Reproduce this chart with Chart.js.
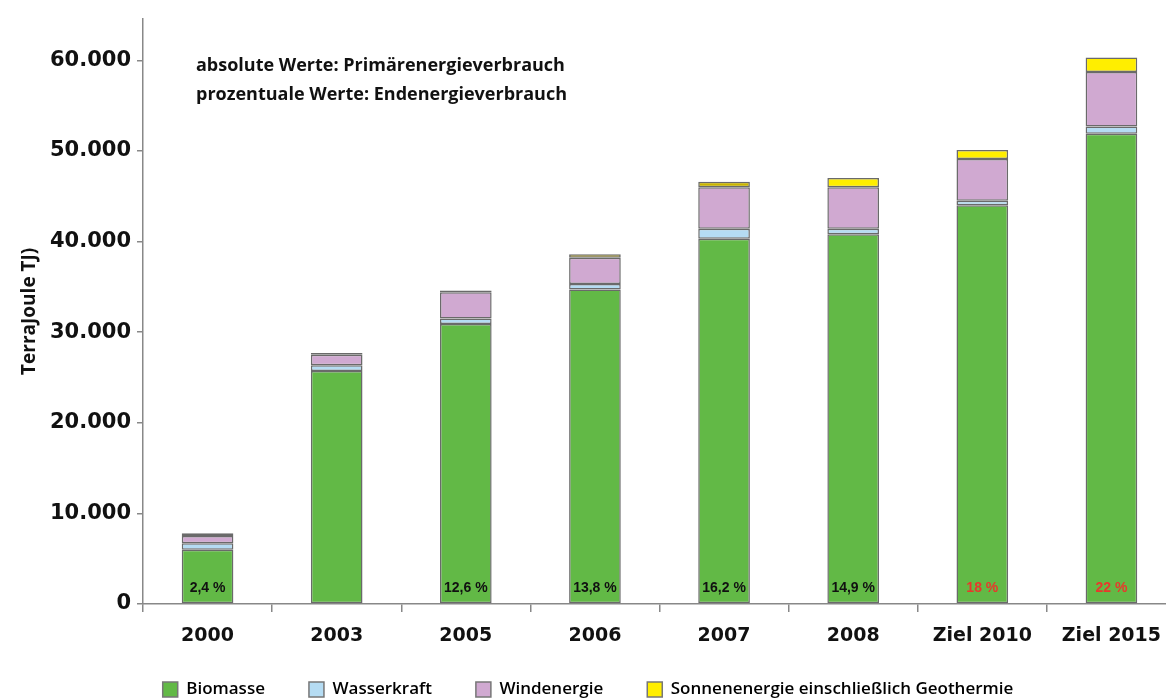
<!DOCTYPE html>
<html>
<head>
<meta charset="utf-8">
<script src="https://cdn.jsdelivr.net/npm/chart.js@4/dist/chart.umd.min.js"></script>
<style>
  html, body { margin: 0; padding: 0; background: #fff; overflow: hidden; }
  #wrap { width: 1176px; height: 708px; }
</style>
</head>
<body>
<div id="wrap"><canvas id="barChart"></canvas></div>
<script>
const years = ['2000', '2003', '2005', '2006', '2007', '2008', 'Ziel 2010', 'Ziel 2015'];
const biomasse = [6000, 25700, 30900, 34700, 40300, 40800, 44000, 51900];
const wasserkraft = [700, 650, 600, 600, 1100, 600, 500, 800];
const windenergie = [800, 1150, 2900, 2900, 4600, 4600, 4600, 6000];
const sonnenenergie = [300, 200, 200, 400, 600, 1000, 1000, 1600];
const anteile = ['2,4 %', '', '12,6 %', '13,8 %', '16,2 %', '14,9 %', '18 %', '22 %'];
const anteilFarben = ['#111', '#111', '#111', '#111', '#111', '#111', '#e8382c', '#e8382c'];
const yTicks = [0, 10000, 20000, 30000, 40000, 50000, 60000];

const border = '#6a6a6a';

// Prozentwerte in den Balken, Jahreszahlen unter der Achse, Hinweistext oben links
const textPlugin = {
  id: 'texte',
  afterDraw(chart) {
    const c = chart.ctx;
    const x = chart.scales.x, y = chart.scales.y;
    c.save();
    c.font = 'bold 14px "Liberation Sans Narrow", "Liberation Sans", sans-serif';
    c.textAlign = 'center';
    c.textBaseline = 'middle';
    anteile.forEach((t, i) => {
      c.fillStyle = anteilFarben[i];
      c.fillText(t, x.getPixelForValue(i), y.getPixelForValue(1700));
    });
    c.font = 'bold 19px "DejaVu Sans", sans-serif';
    c.fillStyle = '#111';
    c.textBaseline = 'top';
    years.forEach((t, i) => {
      c.fillText(t, x.getPixelForValue(i), x.top + 23);
    });
    c.font = 'bold 18px "Open Sans", sans-serif';
    c.textAlign = 'left';
    c.textBaseline = 'middle';
    c.fillText('absolute Werte: Primärenergieverbrauch', 196, 66);
    c.fillText('prozentuale Werte: Endenergieverbrauch', 196, 95);
    c.restore();
  }
};

const ds = (label, data, color) => ({
  label: label,
  data: data,
  backgroundColor: color,
  borderColor: border,
  borderWidth: 1.5,
  borderSkipped: false,
  barPercentage: 0.4,
  categoryPercentage: 1.0
});

const data = {
  labels: years,
  datasets: [
    ds('Biomasse', biomasse, '#62b946'),
    ds('Wasserkraft', wasserkraft, '#b5dcf3'),
    ds('Windenergie', windenergie, '#d0a9d1'),
    ds('Sonnenenergie einschließlich Geothermie', sonnenenergie,
       ['#c9b500', '#c9b500', '#c9b500', '#c9b500', '#c9b500', '#ffee00', '#ffee00', '#ffee00'])
  ]
};

const config = {
  type: 'bar',
  data: data,
  options: {
    responsive: true,
    maintainAspectRatio: false,
    animation: false,
    layout: { padding: { top: 15, right: 0, bottom: 0, left: 0 } },
    plugins: {
      tooltip: { enabled: false },
      legend: {
        position: 'bottom',
        labels: {
          color: '#111',
          font: { family: '"Open Sans", sans-serif', size: 17, weight: '600' },
          boxWidth: 15,
          boxHeight: 15,
          padding: 44,
          generateLabels(chart) {
            return chart.data.datasets.map((d, i) => ({
              text: d.label,
              fillStyle: i === 3 ? '#ffee00' : d.backgroundColor,
              strokeStyle: '#777',
              lineWidth: 1.5,
              datasetIndex: i,
              hidden: false
            }));
          }
        }
      }
    },
    scales: {
      x: {
        stacked: true,
        grid: { drawOnChartArea: false, tickLength: 8, color: '#888', lineWidth: 1.5 },
        border: { color: '#888', width: 1.5 },
        ticks: { display: false },
        afterFit(scale) { scale.height = 33; }
      },
      y: {
        stacked: true,
        min: 0,
        max: 64600,
        grid: { drawOnChartArea: false, tickLength: 6, color: '#888', lineWidth: 1.5 },
        border: { color: '#888', width: 1.5 },
        afterBuildTicks(axis) {
          axis.ticks = yTicks.map(v => ({ value: v }));
        },
        ticks: {
          color: '#111',
          padding: 6,
          font: { family: '"DejaVu Sans", sans-serif', size: 21, weight: 'bold' },
          callback: v => v === 0 ? '0' : v.toLocaleString('de-DE')
        },
        title: {
          display: true,
          text: 'TerraJoule TJ)',
          color: '#111',
          padding: { top: 18, bottom: 0 },
          font: { family: '"Open Sans", sans-serif', size: 19, weight: 'bold' }
        },
        afterFit(scale) { scale.width = 143; }
      }
    }
  },
  plugins: [textPlugin]
};

let chart;
document.addEventListener('DOMContentLoaded', () => {
  const ctx = document.getElementById('barChart').getContext('2d');
  chart = new Chart(ctx, config);
});
</script>
</body>
</html>
